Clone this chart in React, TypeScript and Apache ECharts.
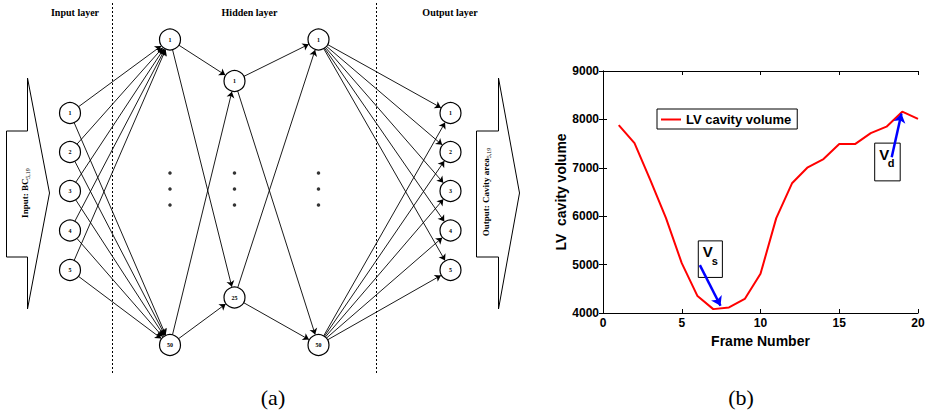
import React, { useEffect, useRef } from "react";
import * as echarts from "echarts";

// ---------- Panel (b) data ----------
const FRAMES = [1, 2, 3, 4, 5, 6, 7, 8, 9, 10, 11, 12, 13, 14, 15, 16, 17, 18, 19, 20];
const LV_VOLUME = [7880, 7510, 6750, 5960, 5030, 4350, 4080, 4115, 4290, 4810, 5960, 6680, 7010, 7180, 7490, 7490, 7715, 7850, 8160, 8010];
const SERIES_NAME = "LV cavity volume";
const X_MIN = 0, X_MAX = 20, X_STEP = 5;
const Y_MIN = 4000, Y_MAX = 9000, Y_STEP = 1000;
// annotations (data space)
const VS_BOX = [6.05, 5490, 7.58, 4735];
const VD_BOX = [17.25, 7510, 18.87, 6730];
const VS_ARROW = [[6.15, 4990], [7.46, 4150]];
const VD_ARROW = [[18.33, 7220], [18.95, 8120]];

// ---------- Panel (a) diagram structure ----------
const INPUT_LABELS = ["1", "2", "3", "4", "5"];
const OUTPUT_LABELS = ["1", "2", "3", "4", "5"];
const HIDDEN1_LABELS = ["1", "50"];
const HIDDEN2_LABELS = ["1", "25"];
const HIDDEN3_LABELS = ["1", "50"];

const W = 933, H = 417;
const LAYER_X = { input: 70, h1: 170, h2: 234.5, h3: 318.5, out: 450.5 };
const IO_Y = [113, 152, 191, 230.5, 270];
const H1_Y = [39.5, 345];
const H2_Y = [81, 297.5];
const H3_Y = [39.5, 345];
const DOT_Y = [173, 189, 205];
const R = 10.5;

type Node = { name: string; x: number; y: number };

function layer(labels: string[], x: number, ys: number[]): Node[] {
  return labels.map((l, i) => ({ name: l, x, y: ys[i] }));
}

function edges(from: Node[], to: Node[]) {
  const out: any[] = [];
  from.forEach((s) => {
    to.forEach((t) => {
      const dx = t.x - s.x, dy = t.y - s.y;
      const len = Math.sqrt(dx * dx + dy * dy);
      const ux = dx / len, uy = dy / len;
      out.push({
        coords: [
          [s.x + ux * R, s.y + uy * R],
          [t.x - ux * (R + 0.5), t.y - uy * (R + 0.5)],
        ],
      });
    });
  });
  return out;
}

const SERIF = "Liberation Serif";
const SANS = "Liberation Sans";

export default function App() {
  const ref = useRef<HTMLDivElement>(null);

  useEffect(() => {
    if (!ref.current) return;
    const chart = echarts.init(ref.current, null, { renderer: "svg" });

    const inputs = layer(INPUT_LABELS, LAYER_X.input, IO_Y);
    const h1 = layer(HIDDEN1_LABELS, LAYER_X.h1, H1_Y);
    const h2 = layer(HIDDEN2_LABELS, LAYER_X.h2, H2_Y);
    const h3 = layer(HIDDEN3_LABELS, LAYER_X.h3, H3_Y);
    const outs = layer(OUTPUT_LABELS, LAYER_X.out, IO_Y);
    const allNodes = [...inputs, ...h1, ...h2, ...h3, ...outs];
    const allEdges = [
      ...edges(inputs, h1),
      ...edges(h1, h2),
      ...edges(h2, h3),
      ...edges(h3, outs),
    ];
    const dots: number[][] = [];
    [LAYER_X.h1, LAYER_X.h2, LAYER_X.h3].forEach((x) => DOT_Y.forEach((y) => dots.push([x, y])));

    const boldSans = { fontFamily: SANS, fontWeight: "bold" as const, color: "#000" };

    const diagramGraphics: any[] = [
      {
        type: "line",
        shape: { x1: 112.5, y1: 3, x2: 112.5, y2: 373 },
        style: { stroke: "#000", lineWidth: 1, lineDash: [2, 2] },
      },
      {
        type: "line",
        shape: { x1: 376.5, y1: 3, x2: 376.5, y2: 373 },
        style: { stroke: "#000", lineWidth: 1, lineDash: [2, 2] },
      },
      {
        type: "polygon",
        shape: { points: [[6.5, 131], [27.5, 131], [27.5, 78], [49.5, 193], [27.5, 309], [27.5, 257], [6.5, 257]] },
        style: { fill: "#fff", stroke: "#000", lineWidth: 1 },
      },
      {
        type: "polygon",
        shape: { points: [[476.5, 131], [498.5, 131], [498.5, 78], [519.5, 193], [498.5, 309], [498.5, 257], [476.5, 257]] },
        style: { fill: "#fff", stroke: "#000", lineWidth: 1 },
      },
      {
        type: "text",
        x: 25,
        y: 193,
        rotation: Math.PI / 2,
        style: {
          text: "{a|Input: BC}{b|5,19}",
          align: "center",
          verticalAlign: "middle",
          rich: {
            a: { fontFamily: SERIF, fontWeight: "bold", fontSize: 9, lineHeight: 12, fill: "#000", verticalAlign: "middle" },
            b: { fontFamily: SERIF, fontSize: 6, lineHeight: 12, fill: "#000", verticalAlign: "bottom" },
          },
        },
      },
      {
        type: "text",
        x: 486,
        y: 192,
        rotation: Math.PI / 2,
        style: {
          text: "{a|Output: Cavity area}{b|5,19}",
          align: "center",
          verticalAlign: "middle",
          rich: {
            a: { fontFamily: SERIF, fontWeight: "bold", fontSize: 9, lineHeight: 12, fill: "#000", verticalAlign: "middle" },
            b: { fontFamily: SERIF, fontSize: 6, lineHeight: 12, fill: "#000", verticalAlign: "bottom" },
          },
        },
      },
      {
        type: "text",
        x: 75,
        y: 12,
        style: { text: "Input layer", fontFamily: SERIF, fontWeight: "bold", fontSize: 10, fill: "#000", align: "center", verticalAlign: "middle" },
      },
      {
        type: "text",
        x: 249.5,
        y: 12,
        style: { text: "Hidden layer", fontFamily: SERIF, fontWeight: "bold", fontSize: 10, fill: "#000", align: "center", verticalAlign: "middle" },
      },
      {
        type: "text",
        x: 450,
        y: 12,
        style: { text: "Output layer", fontFamily: SERIF, fontWeight: "bold", fontSize: 10, fill: "#000", align: "center", verticalAlign: "middle" },
      },
      {
        type: "text",
        x: 273,
        y: 397,
        style: { text: "(a)", fontFamily: SERIF, fontSize: 22, fill: "#000", align: "center", verticalAlign: "middle" },
      },
      {
        type: "text",
        x: 741,
        y: 397,
        style: { text: "(b)", fontFamily: SERIF, fontSize: 22, fill: "#000", align: "center", verticalAlign: "middle" },
      },
    ];

    const option: any = {
      animation: false,
      backgroundColor: "#fff",
      grid: [
        { left: 0, top: 0, width: W, height: H },
        { left: 603, top: 71, width: 315, height: 242 },
      ],
      xAxis: [
        { gridIndex: 0, type: "value", min: 0, max: W, show: false },
        {
          gridIndex: 1,
          type: "value",
          min: X_MIN,
          max: X_MAX,
          interval: X_STEP,
          position: "bottom",
          axisLine: { show: true, lineStyle: { color: "#000", width: 1 } },
          axisTick: { show: true, inside: true, length: 4, lineStyle: { color: "#000" } },
          axisLabel: { ...boldSans, fontSize: 12, margin: 4, formatter: (v: number) => String(v) },
          splitLine: { show: false },
          name: "Frame Number",
          nameLocation: "middle",
          nameGap: 15,
          nameTextStyle: { ...boldSans, fontSize: 14 },
        },
        {
          gridIndex: 1,
          type: "value",
          min: X_MIN,
          max: X_MAX,
          interval: X_STEP,
          position: "top",
          axisLine: { show: true, lineStyle: { color: "#000", width: 1 } },
          axisTick: { show: true, inside: true, length: 4, lineStyle: { color: "#000" } },
          axisLabel: { show: false },
          splitLine: { show: false },
        },
      ],
      yAxis: [
        { gridIndex: 0, type: "value", min: 0, max: H, inverse: true, show: false },
        {
          gridIndex: 1,
          type: "value",
          min: Y_MIN,
          max: Y_MAX,
          interval: Y_STEP,
          position: "left",
          axisLine: { show: true, lineStyle: { color: "#000", width: 1 } },
          axisTick: { show: true, inside: true, length: 4, lineStyle: { color: "#000" } },
          axisLabel: { ...boldSans, fontSize: 12, margin: 4, formatter: (v: number) => String(v) },
          splitLine: { show: false },
          name: "LV  cavity volume",
          nameLocation: "middle",
          nameGap: 34,
          nameTextStyle: { ...boldSans, fontSize: 14 },
        },
        {
          gridIndex: 1,
          type: "value",
          min: Y_MIN,
          max: Y_MAX,
          interval: Y_STEP,
          position: "right",
          axisLine: { show: true, lineStyle: { color: "#000", width: 1 } },
          axisTick: { show: true, inside: true, length: 4, lineStyle: { color: "#000" } },
          axisLabel: { show: false },
          splitLine: { show: false },
        },
      ],
      legend: {
        data: [{ name: SERIES_NAME, icon: "rect" }],
        left: 657,
        top: 109,
        padding: [4, 6, 3, 4],
        borderColor: "#000",
        borderWidth: 1,
        backgroundColor: "#fff",
        itemWidth: 20,
        itemHeight: 2,
        textStyle: { ...boldSans, fontSize: 13 },
      },
      series: [
        {
          type: "lines",
          coordinateSystem: "cartesian2d",
          xAxisIndex: 0,
          yAxisIndex: 0,
          symbol: ["none", "arrow"],
          symbolSize: 6,
          silent: true,
          lineStyle: { color: "#000", width: 0.9, opacity: 1 },
          data: allEdges,
          z: 2,
        },
        {
          type: "scatter",
          xAxisIndex: 0,
          yAxisIndex: 0,
          symbol: "circle",
          symbolSize: 2 * R,
          silent: true,
          itemStyle: { color: "#fff", borderColor: "#000", borderWidth: 1.2, opacity: 1 },
          label: {
            show: true,
            position: "inside",
            formatter: "{b}",
            fontFamily: SERIF,
            fontWeight: "bold",
            fontSize: 6,
            color: "#000",
            textBorderWidth: 0,
            textBorderColor: "transparent",
          },
          data: allNodes.map((n) => ({ name: n.name, value: [n.x, n.y] })),
          z: 3,
        },
        {
          type: "scatter",
          xAxisIndex: 0,
          yAxisIndex: 0,
          symbol: "circle",
          symbolSize: 3.5,
          silent: true,
          itemStyle: { color: "#000" },
          data: dots,
          z: 3,
        },
        {
          name: SERIES_NAME,
          type: "line",
          xAxisIndex: 1,
          yAxisIndex: 1,
          symbol: "none",
          lineStyle: { color: "#ff0000", width: 2 },
          itemStyle: { color: "#ff0000" },
          data: FRAMES.map((f, i) => [f, LV_VOLUME[i]]),
          z: 4,
        },
        {
          type: "lines",
          coordinateSystem: "cartesian2d",
          xAxisIndex: 1,
          yAxisIndex: 1,
          symbol: ["none", "arrow"],
          symbolSize: 9,
          silent: true,
          lineStyle: { color: "#0000ff", width: 2.5, opacity: 1 },
          data: [{ coords: VS_ARROW }, { coords: VD_ARROW }],
          z: 6,
        },
      ],
      graphic: diagramGraphics,
    };

    chart.setOption(option);

    const finder = { xAxisIndex: 1, yAxisIndex: 1 };
    const annot = (box: number[], sub: string) => {
      const a = chart.convertToPixel(finder, [box[0], box[1]]) as number[];
      const b = chart.convertToPixel(finder, [box[2], box[3]]) as number[];
      return [
        {
          type: "rect",
          z: 5,
          shape: { x: a[0], y: a[1], width: b[0] - a[0], height: b[1] - a[1] },
          style: { fill: "#fff", stroke: "#000", lineWidth: 1 },
        },
        {
          type: "text",
          z: 7,
          x: a[0] + 9.5,
          y: a[1] + 11,
          style: { text: "V", fontFamily: SANS, fontWeight: "bold", fontSize: 15, fill: "#000", align: "center", verticalAlign: "middle" },
        },
        {
          type: "text",
          z: 7,
          x: a[0] + 16.5,
          y: a[1] + 20,
          style: { text: sub, fontFamily: SANS, fontWeight: "bold", fontSize: 11, fill: "#000", align: "center", verticalAlign: "middle" },
        },
      ];
    };
    chart.setOption({ graphic: [...diagramGraphics, ...annot(VS_BOX, "s"), ...annot(VD_BOX, "d")] });

    return () => chart.dispose();
  }, []);

  return (
    <div
      ref={ref}
      style={{ position: "absolute", left: 0, top: 0, width: W, height: H, background: "#fff" }}
    />
  );
}
